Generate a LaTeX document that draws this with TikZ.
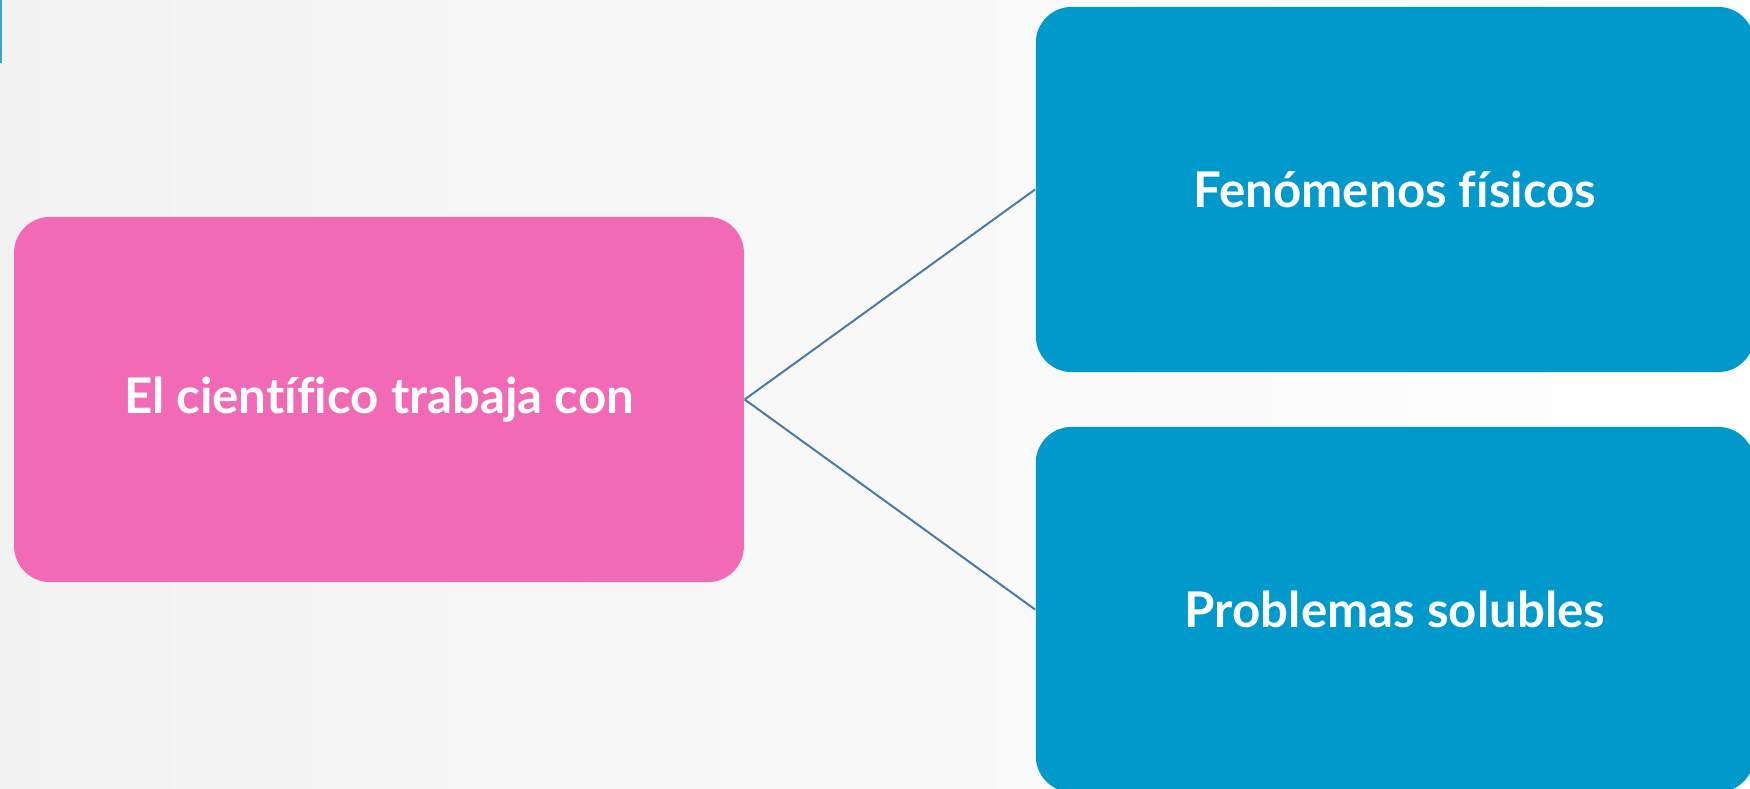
\documentclass[tikz,border=0pt]{standalone}
\usepackage{fontspec}
\setmainfont[Ligatures=NoCommon]{Lato}
\usepackage{xcolor}
\usepackage{tikz}
\usetikzlibrary{arrows, arrows.meta}

\definecolor{rosa}{HTML}{F26AB5}
\definecolor{azul}{HTML}{0099CC}
\definecolor{franja}{HTML}{3AA3D4}
\definecolor{linea}{HTML}{4A7AA8}

\tikzset{
  caja/.style={rounded corners=0.36cm, text=white, inner sep=0pt,
    font=\bfseries\fontsize{14}{16}\selectfont, minimum height=3.65cm},
}

\begin{document}
\begin{tikzpicture}[x=0.01cm,y=-0.01cm]
\clip (0,0) rectangle (1750,789);
\shade[left color=gray!10,right color=white] (0,0) rectangle (1750,789);
\fill[franja] (0,0) rectangle (2,63);
%\draw[step=100,gray,very thin] (0,0) grid (1750,789);
\node[caja, fill=rosa, minimum width=7.295cm] (cientifico) at (379,399.5) {El científico trabaja con};
\node[caja, fill=azul, minimum width=7.18cm] (fenomenos) at (1395,189.5) {Fenómenos físicos};
\node[caja, fill=azul, minimum width=7.18cm] (problemas) at (1395,609.5) {Problemas solubles};
\draw[linea, line width=0.02cm] (cientifico.east) -- (fenomenos.west);
\draw[linea, line width=0.02cm] (cientifico.east) -- (problemas.west);
\end{tikzpicture}
\end{document}
